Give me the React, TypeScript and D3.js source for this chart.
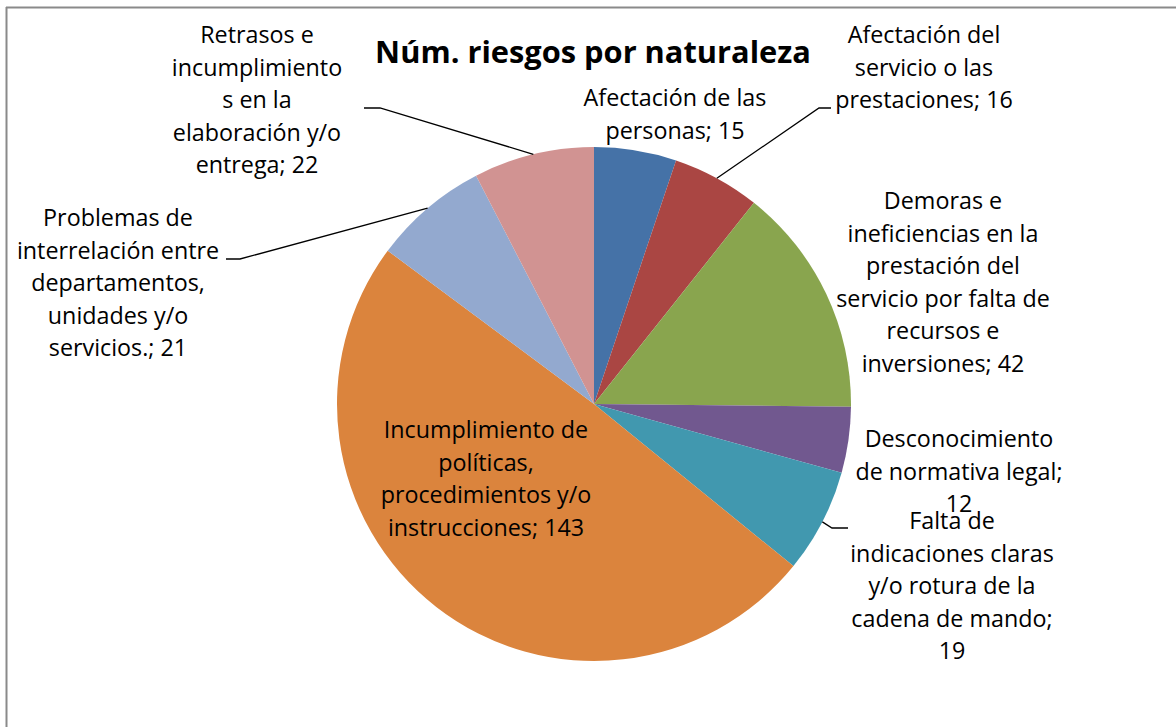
import React from "react";
import * as d3 from "d3";

const categories = [
  "Afectación de las personas",
  "Afectación del servicio o las prestaciones",
  "Demoras e ineficiencias en la prestación del servicio por falta de recursos e inversiones",
  "Desconocimiento de normativa legal",
  "Falta de indicaciones claras y/o rotura de la cadena de mando",
  "Incumplimiento de políticas, procedimientos y/o instrucciones",
  "Problemas de interrelación entre departamentos, unidades y/o servicios.",
  "Retrasos e incumplimientos en la elaboración y/o entrega",
];
const values = [15, 16, 42, 12, 19, 143, 21, 22];
const colors = ["#4572A7", "#AA4643", "#89A54E", "#71588F", "#4198AF", "#DB843D", "#93A9CF", "#D19392"];
const labelLines = [
  ["Afectación de las", "personas; 15"],
  ["Afectación del", "servicio o las", "prestaciones; 16"],
  ["Demoras e", "ineficiencias en la", "prestación del", "servicio por falta de", "recursos e", "inversiones; 42"],
  ["Desconocimiento", "de normativa legal;", "12"],
  ["Falta de", "indicaciones claras", "y/o rotura de la", "cadena de mando;", "19"],
  ["Incumplimiento de", "políticas,", "procedimientos y/o", "instrucciones; 143"],
  ["Problemas de", "interrelación entre", "departamentos,", "unidades y/o", "servicios.; 21"],
  ["Retrasos e", "incumplimiento", "s en la", "elaboración y/o", "entrega; 22"],
];
const title = "Núm. riesgos por naturaleza";

// layout (label block centre x, first baseline y, optional leader elbow/end)
const W = 1176, H = 727;
const cx = 594, cy = 404, R = 257;
const lineH = 32.5;
const labelPos: { x: number; y: number; leader?: [number, number][] }[] = [
  { x: 675, y: 106 },
  { x: 924, y: 43, leader: [[819, 108], [831, 108]] },
  { x: 943, y: 209 },
  { x: 959, y: 447 },
  { x: 952, y: 529, leader: [[832, 528], [848, 528]] },
  { x: 486, y: 438 },
  { x: 118, y: 226, leader: [[240, 259], [226, 259]] },
  { x: 257, y: 43, leader: [[380, 108], [364, 108]] },
];

export default function App() {
  const pie = d3.pie<number>().sort(null).value((d) => d)(values);
  const arc = d3.arc<d3.PieArcDatum<number>>().innerRadius(0).outerRadius(R);
  const font = "'Open Sans', Lato, sans-serif";
  return (
    <svg width={W} height={H} style={{ position: "absolute", left: 0, top: 0, background: "#fff" }}>
      <line x1={6.5} y1={7} x2={6.5} y2={H} stroke="#8a8a8a" strokeWidth={2} />
      <line x1={6} y1={7.5} x2={W} y2={7.5} stroke="#8a8a8a" strokeWidth={2} />
      <g transform={`translate(${cx},${cy})`}>
        {pie.map((p, i) => (
          <path key={categories[i]} d={arc(p) || ""} fill={colors[i]} />
        ))}
      </g>
      {pie.map((p, i) => {
        const lp = labelPos[i];
        if (!lp.leader) return null;
        const a = (p.startAngle + p.endAngle) / 2;
        const sx = cx + R * Math.sin(a);
        const sy = cy - R * Math.cos(a);
        const pts: [number, number][] = [[sx, sy], ...lp.leader];
        return <path key={"l" + i} d={d3.line()(pts) || ""} fill="none" stroke="#000" strokeWidth={1.3} />;
      })}
      <text x={593} y={63} textAnchor="middle" fontFamily={font} fontWeight="bold" fontSize={30.8} fill="#000">
        {title}
      </text>
      {labelLines.map((lines, i) => (
        <text key={"t" + i} textAnchor="middle" fontFamily={font} fontSize={23.3} fill="#000">
          {lines.map((ln, j) => (
            <tspan key={j} x={labelPos[i].x} y={labelPos[i].y + j * lineH}>
              {ln}
            </tspan>
          ))}
        </text>
      ))}
    </svg>
  );
}
